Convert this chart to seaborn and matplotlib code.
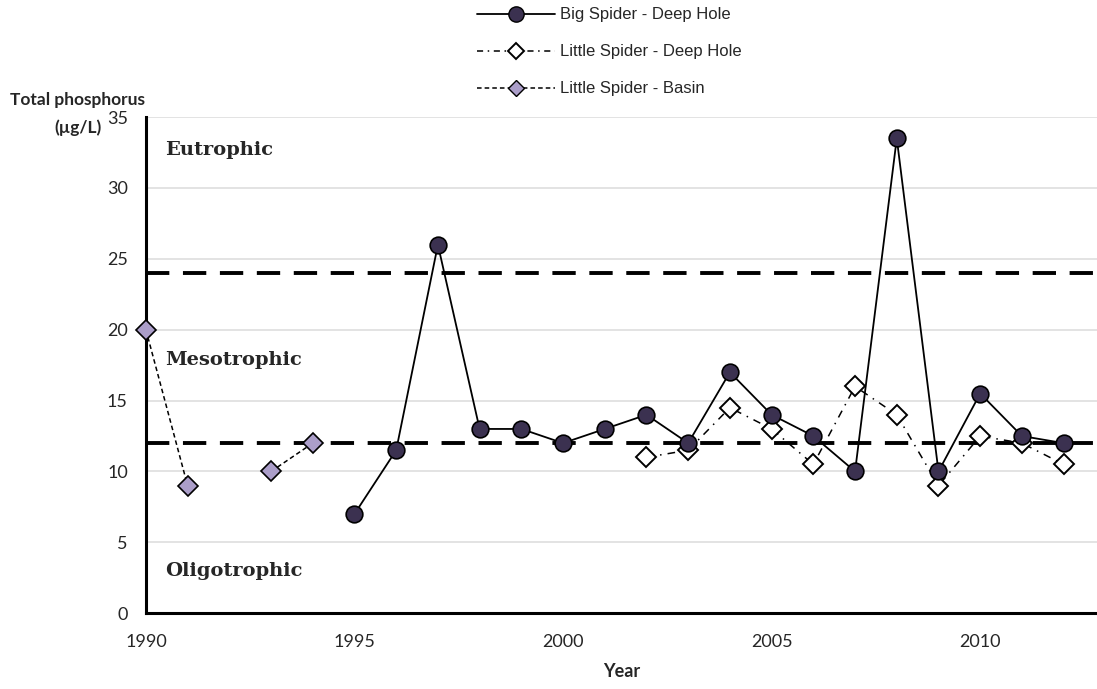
import pandas as pd
import numpy as np
import matplotlib.pyplot as plt
import seaborn as sns
from matplotlib.lines import Line2D

# data
big_years = [1995, 1996, 1997, 1998, 1999, 2000, 2001, 2002, 2003, 2004, 2005, 2006,
             2007, 2008, 2009, 2010, 2011, 2012]
big_tp = [7, 11.5, 26, 13, 13, 12, 13, 14, 12, 17, 14, 12.5, 10, 33.5, 10, 15.5, 12.5, 12]

ls_deep_years = [2002, 2003, 2004, 2005, 2006, 2007, 2008, 2009, 2010, 2011, 2012]
ls_deep_tp = [11, 11.5, 14.5, 13, 10.5, 16, 14, 9, 12.5, 12, 10.5]

ls_basin_years = [1990, 1991, 1993, 1994]
ls_basin_tp = [20, 9, 10, 12]
ls_basin_seg = [1, 1, 2, 2]  # no sample in 1992 -> break the line

trophic_limits = [12, 24]
trophic_labels = ["Eutrophic", "Mesotrophic", "Oligotrophic"]
trophic_label_y = [32.7, 17.9, 3.0]

big_df = pd.DataFrame({"Year": big_years, "TP": big_tp})
deep_df = pd.DataFrame({"Year": ls_deep_years, "TP": ls_deep_tp})
basin_df = pd.DataFrame({"Year": ls_basin_years, "TP": ls_basin_tp, "seg": ls_basin_seg})

sns.set_style("white")
plt.rcParams['font.family'] = ['Lato', 'DejaVu Sans']

fig = plt.figure(figsize=(10.97, 6.89), dpi=100)
ax = fig.add_axes([0.133, 0.110, 0.867, 0.720])

dark = "#3b3150"
lav = "#ab9ec9"

# trophic boundaries
for lim in trophic_limits:
    ax.axhline(lim, color="black", lw=2.8, ls=(0, (6, 3.5)), zorder=2)

sns.lineplot(data=basin_df, x="Year", y="TP", units="seg", estimator=None, ax=ax,
             color="black", lw=1.1, ls=(0, (3, 2)), marker="D", markersize=10,
             markerfacecolor=lav, markeredgecolor="black", markeredgewidth=1.2,
             zorder=4, clip_on=False)
sns.lineplot(data=deep_df, x="Year", y="TP", ax=ax, color="black", lw=1.1,
             ls=(0, (5, 4, 1, 4)), marker="D", markersize=10, markerfacecolor="white",
             markeredgecolor="black", markeredgewidth=1.4, zorder=4)
sns.lineplot(data=big_df, x="Year", y="TP", ax=ax, color="black", lw=1.3,
             marker="o", markersize=12, markerfacecolor=dark, markeredgecolor="black",
             markeredgewidth=1.2, zorder=5)

ax.set_xlim(1990, 2012.8)
ax.set_ylim(0, 35)
ax.set_xticks([1990, 1995, 2000, 2005, 2010])
ax.set_yticks(np.arange(0, 36, 5))
ax.yaxis.grid(True, color="#dedede", lw=1.2)
ax.set_axisbelow(True)
for s in ["top", "right"]:
    ax.spines[s].set_visible(False)
for s in ["left", "bottom"]:
    ax.spines[s].set_linewidth(2.2)
    ax.spines[s].set_color("black")
ax.tick_params(axis="both", which="major", direction="out", length=7, width=1.3,
               labelsize=13, color="black", pad=6)
ax.tick_params(axis="x", pad=8)
ax.set_ylabel("")
ax.set_xlabel("Year", fontsize=13, fontweight="bold", labelpad=9)

for lab, yy in zip(trophic_labels, trophic_label_y):
    ax.text(1990.45, yy, lab, fontsize=14, fontweight="bold",
            family=["DejaVu Serif"], va="center", ha="left")

# y axis title, two lines above the axis
fig.text(0.071, 0.855, "Total phosphorus", fontsize=12.5, fontweight="bold",
         ha="center", va="center")
fig.text(0.071, 0.814, "(µg/L)", fontsize=12.5, fontweight="bold",
         ha="center", va="center")

handles = [
    Line2D([], [], color="black", lw=1.3, marker="o", markersize=11,
           markerfacecolor=dark, markeredgecolor="black"),
    Line2D([], [], color="black", lw=1.1, ls=(0, (4, 3, 1, 3)), marker="D", markersize=8,
           markerfacecolor="white", markeredgecolor="black", markeredgewidth=1.4),
    Line2D([], [], color="black", lw=1.1, ls=(0, (3, 2)), marker="D", markersize=8,
           markerfacecolor=lav, markeredgecolor="black"),
]
labels = ["Big Spider - Deep Hole", "Little Spider - Deep Hole", "Little Spider - Basin"]
leg = fig.legend(handles, labels, loc="upper left", bbox_to_anchor=(0.421, 1.011),
                 frameon=False, handlelength=4.7, labelspacing=1.32, handletextpad=0.3,
                 prop={"family": ["Liberation Sans", "DejaVu Sans"], "size": 12})

fig.savefig("out.png", dpi=100)
